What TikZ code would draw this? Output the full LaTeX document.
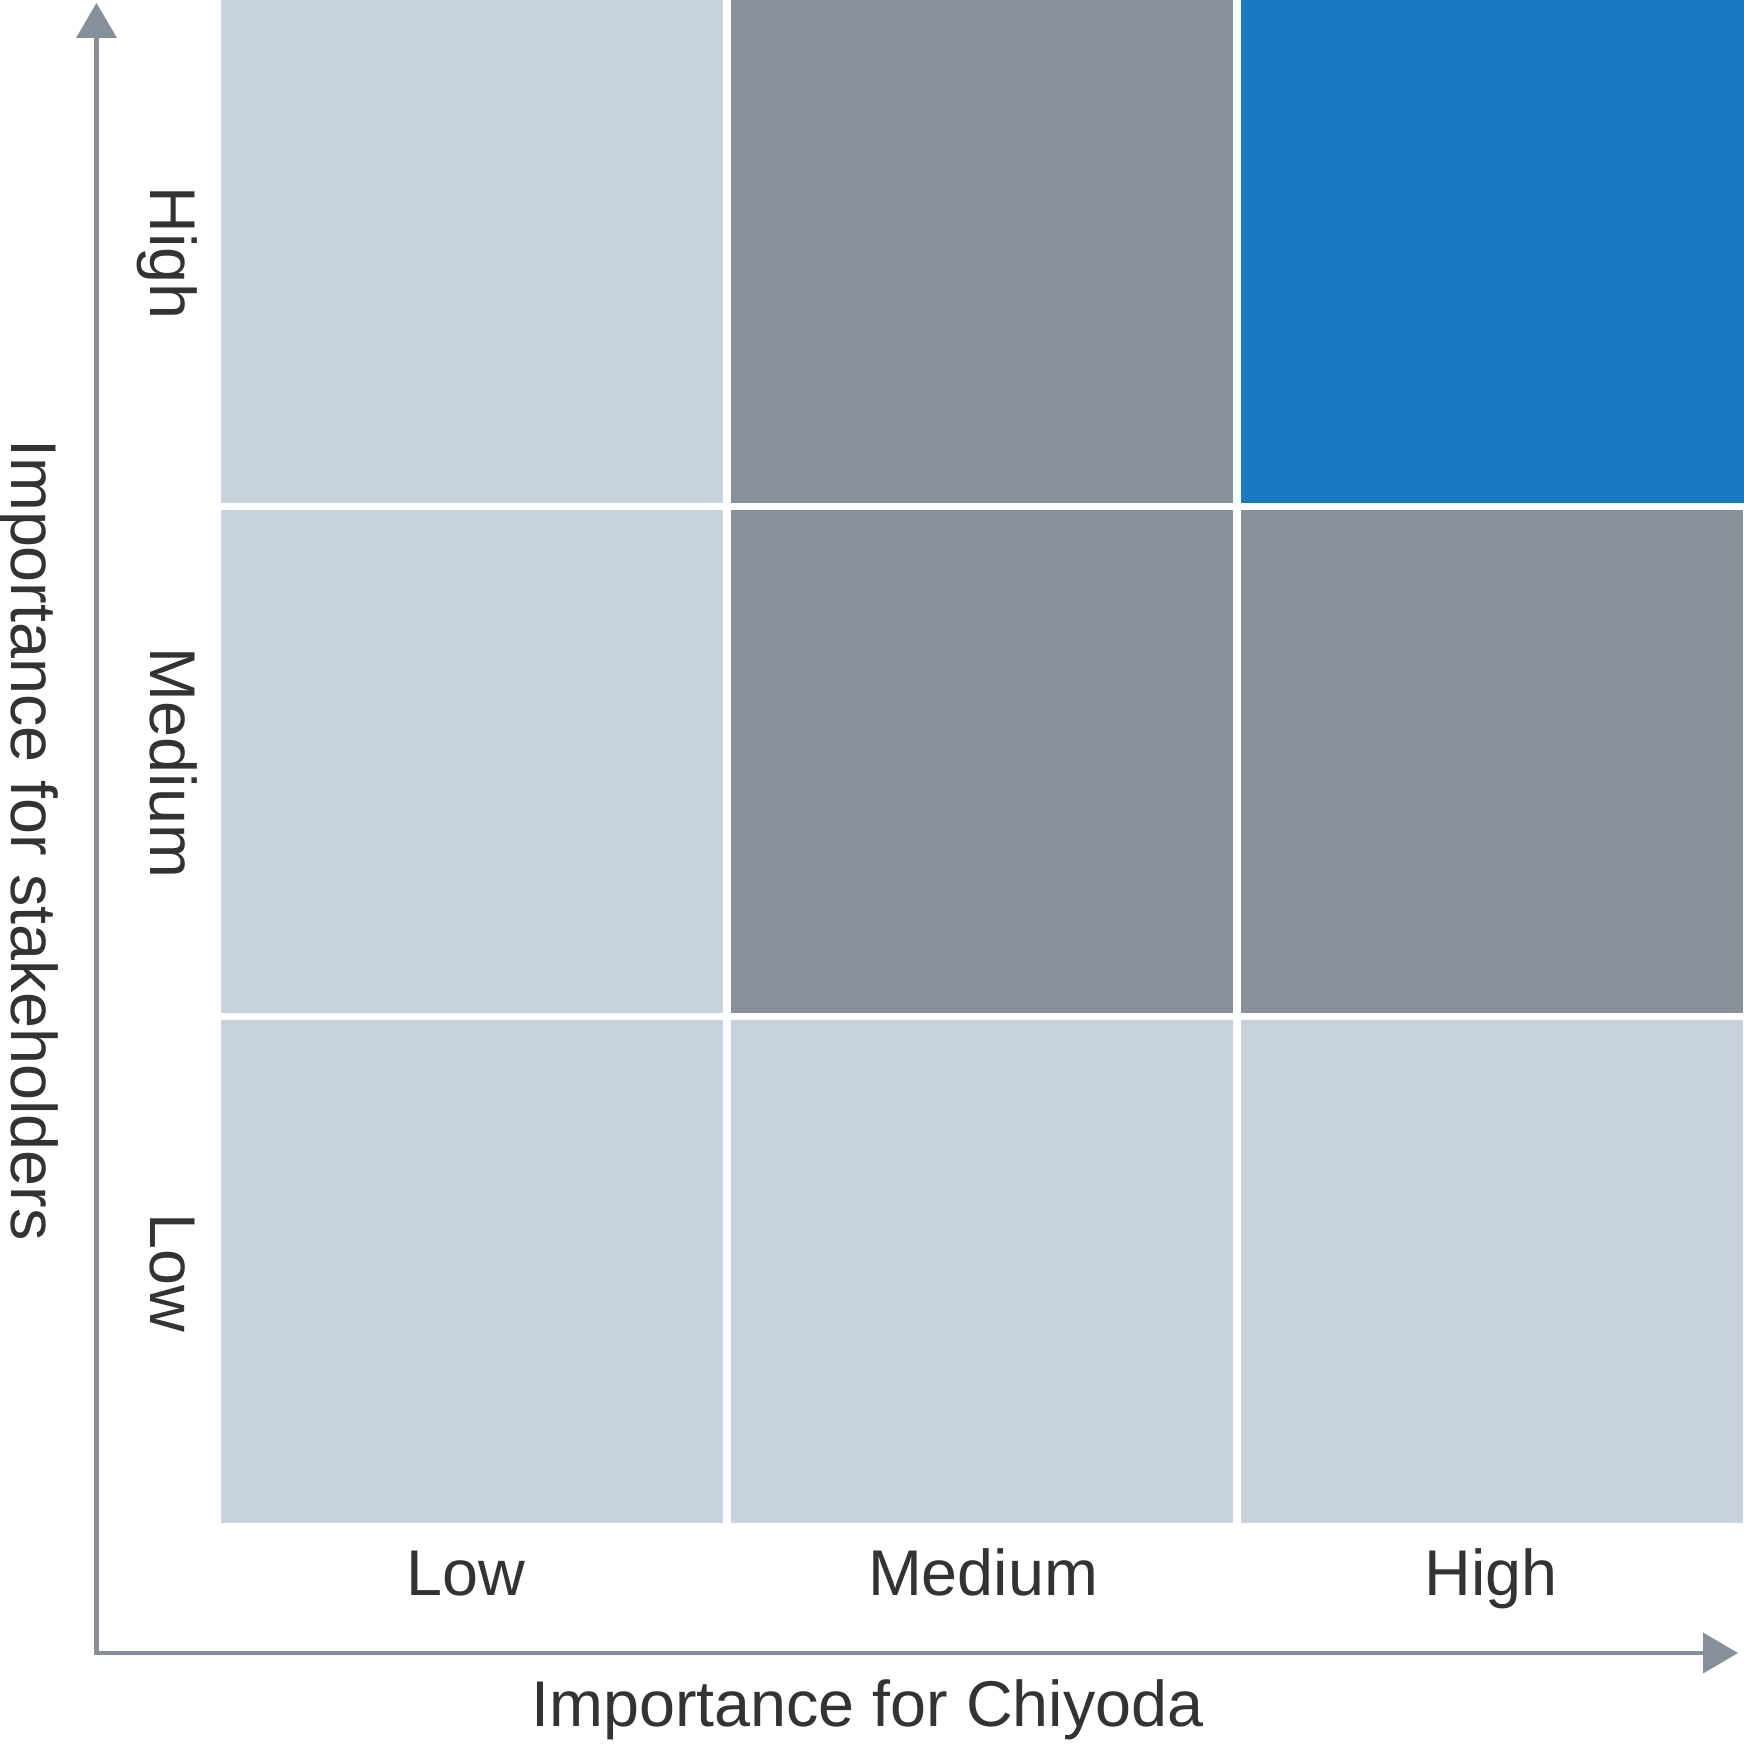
\documentclass[tikz,border=0pt]{standalone}
\usepackage{fontspec}
\setmainfont{Liberation Sans}
\usetikzlibrary{arrows.meta,positioning}
\definecolor{cellpale}{HTML}{C8D2DC}
\definecolor{cellgrey}{HTML}{88919A}
\definecolor{cellblue}{HTML}{187BC0}
\definecolor{axisgrey}{HTML}{87909A}
\definecolor{inkgrey}{HTML}{333333}
\tikzset{
  cellbox/.style={draw=none, minimum width=5.02cm, minimum height=5.03cm,
                  inner sep=0pt, anchor=south west},
  lvl/.style={text=inkgrey, inner sep=0pt, anchor=base,
              font=\fontsize{18.4}{22}\selectfont},
  axarr/.style={{Triangle[length=3.5mm,width=4mm]}-{Triangle[length=3.5mm,width=4mm]},
                line width=1.15pt, color=axisgrey, line join=miter}}

\begin{document}
\begin{tikzpicture}[
         vlvl/.style={lvl, rotate=-90}]
        \useasboundingbox (0,0) rectangle (17.44,17.44);
        % the grid, bottom row first
        \node[cellbox, fill=cellpale] (lowlow)  at (2.20,2.20)   {};
        \node[cellbox, fill=cellpale] (medlow)  at (7.30,2.20)   {};
        \node[cellbox, fill=cellpale] (highlow) at (12.40,2.20)  {};
        \node[cellbox, fill=cellpale] (lowmed)  at (2.20,7.30)   {};
        \node[cellbox, fill=cellgrey] (medmed)  at (7.30,7.30)   {};
        \node[cellbox, fill=cellgrey] (highmed) at (12.40,7.30)  {};
        \node[cellbox, fill=cellpale] (lowhigh) at (2.20,12.40)  {};
        \node[cellbox, fill=cellgrey] (medhigh) at (7.30,12.40)  {};
        \node[cellbox, fill=cellblue, minimum height=5.04cm, minimum width=5.04cm]
          (highhigh) at (12.40,12.40) {};
        % axes
        \coordinate (origin) at (0.965,0.91);
        \coordinate (ytip)   at (0.965,17.41);
        \coordinate (xtip)   at (17.38,0.91);
        \draw[axarr] (ytip) -- (origin) -- (xtip);
        % level labels
        \node[lvl] (xlow)  at (4.655,1.48) {Low};
        \node[lvl] (xmed)  at (9.83,1.48)  {Medium};
        \node[lvl] (xhigh) at (14.91,1.48) {High};
        \node[vlvl] (ylow)  at (1.50,4.71)  {Low};
        \node[vlvl] (ymed)  at (1.50,9.81)  {Medium};
        \node[vlvl] (yhigh) at (1.50,14.91) {High};
        \node[lvl] (xtitle) at (8.675,0.18) {Importance for Chiyoda};
        \node[vlvl] (ytitle) at (0.117,9.04) {Importance for stakeholders};
      \end{tikzpicture}
\end{document}
